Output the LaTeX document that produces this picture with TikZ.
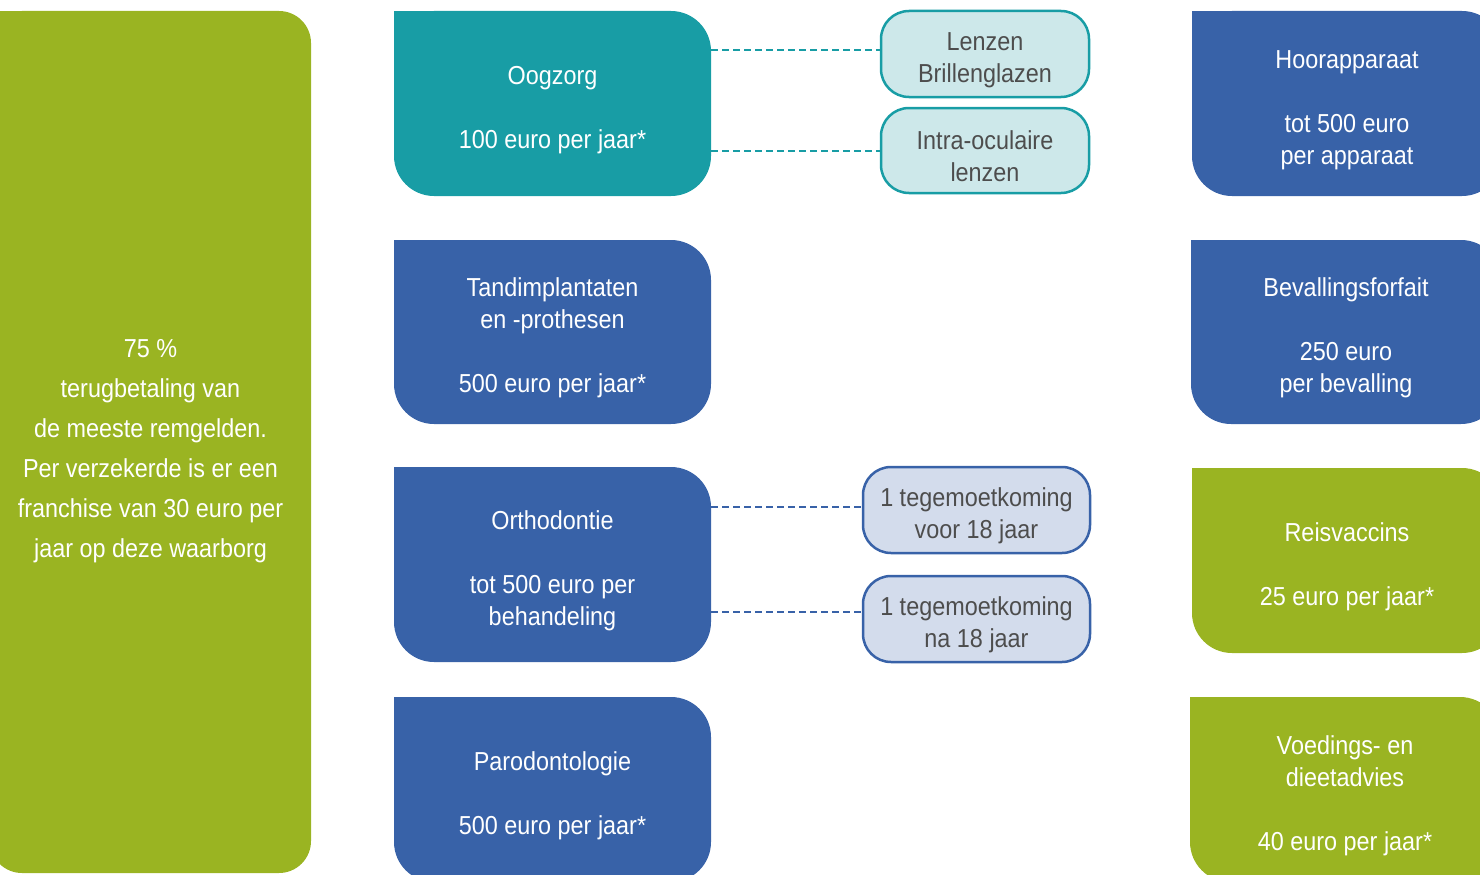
\documentclass[tikz,border=0pt]{standalone}
\usepackage{fontspec}
\setmainfont{Liberation Sans}[FakeStretch=0.9]
\definecolor{leafgreen}{RGB}{154,180,34}
\definecolor{eyeteal}{RGB}{24,157,165}
\definecolor{dentblue}{RGB}{56,98,168}
\definecolor{paleteal}{RGB}{205,232,234}
\definecolor{paleblue}{RGB}{211,220,236}
\definecolor{greytext}{RGB}{77,77,77}
\newcommand\padtop[1][31pt]{\rule{0pt}{#1}}
\begin{document}
\begin{tikzpicture}
	[x=1pt,y=-1pt,
	bigbox/.style={rounded corners=40pt, text=white, align=center, inner sep=0pt,
		minimum width=317pt, minimum height=185pt, font=\fontsize{26}{32}\selectfont},
	sidebox/.style={bigbox, minimum width=310pt},
	subbox/.style={rounded corners=28pt, line width=2.5pt, text=greytext, align=center,
		inner sep=0pt, minimum height=86pt, font=\fontsize{26}{32}\selectfont},
	link/.style={dash pattern=on 7pt off 4pt, line width=2pt}]
	\useasboundingbox (0,0) rectangle (1480,875);
	\clip (0,0) rectangle (1480,875);
	% left column
	\node[bigbox, fill=leafgreen, rounded corners=32pt, minimum width=321pt,
		minimum height=862pt, font=\fontsize{26}{40}\selectfont] (total) at (150.5,442)
		{\padtop[37pt]75 \%\\terugbetaling van\\de meeste remgelden.\\Per verzekerde is er een\\franchise van 30 euro per\\jaar op deze waarborg};
	% middle column
	\node[bigbox, fill=eyeteal] (oog) at (552.5,103.5) {\padtop Oogzorg\\[32pt]100 euro per jaar*};
	\node[bigbox, fill=dentblue, minimum height=184pt] (tand) at (552.5,332)
		{\padtop Tandimplantaten\\en -prothesen\\[32pt]500 euro per jaar*};
	\node[bigbox, fill=dentblue, minimum height=195pt] (orth) at (552.5,564.5)
		{\padtop Orthodontie\\[32pt]tot 500 euro per\\behandeling};
	\node[bigbox, fill=dentblue] (paro) at (552.5,789.5) {\padtop Parodontologie\\[32pt]500 euro per jaar*};
	% sub boxes
	\node[subbox, draw=eyeteal, fill=paleteal, minimum width=208pt] (lenzen) at (985,54)
		{\padtop[30pt]Lenzen\\Brillenglazen};
	\node[subbox, draw=eyeteal, fill=paleteal, minimum width=208pt, minimum height=85pt] (intra) at (985,150.5)
		{\padtop[30pt]Intra-oculaire\\lenzen};
	\node[subbox, draw=dentblue, fill=paleblue, minimum width=227pt] (voor) at (976.5,510)
		{\padtop[30pt]1 tegemoetkoming\\voor 18 jaar};
	\node[subbox, draw=dentblue, fill=paleblue, minimum width=227pt] (na) at (976.5,619)
		{\padtop[30pt]1 tegemoetkoming\\na 18 jaar};
	% right column
	\node[sidebox, fill=dentblue] (hoor) at (1347,103.5) {\padtop Hoorapparaat\\[32pt]tot 500 euro\\per apparaat};
	\node[sidebox, fill=dentblue, minimum height=184pt] (bev) at (1346,332)
		{\padtop Bevallingsforfait\\[32pt]250 euro\\per bevalling};
	\node[sidebox, fill=leafgreen] (reis) at (1347,560.5) {\padtop Reisvaccins\\[32pt]25 euro per jaar*};
	\node[sidebox, fill=leafgreen] (voed) at (1345,789.5)
		{\padtop Voedings- en\\dieetadvies\\[32pt]40 euro per jaar*};
	% square top left corners
	\foreach \n/\c in {total/leafgreen, oog/eyeteal, tand/dentblue, orth/dentblue, paro/dentblue,
		hoor/dentblue, bev/dentblue, reis/leafgreen, voed/leafgreen}
		\fill[\c] (\n.north west) rectangle ++(42,42);
	% dashed links
	\coordinate (lenzenin) at ([yshift=4pt]lenzen.west);
	\coordinate (voorin) at ([yshift=3pt]voor.west);
	\coordinate (nain) at ([yshift=7pt]na.west);
	\draw[link, eyeteal] (oog.east |- lenzenin) -- (lenzenin);
	\draw[link, eyeteal] (oog.east |- intra.west) -- (intra.west);
	\draw[link, dentblue] (orth.east |- voorin) -- (voorin);
	\draw[link, dentblue] (orth.east |- nain) -- (nain);
\end{tikzpicture}
\end{document}
